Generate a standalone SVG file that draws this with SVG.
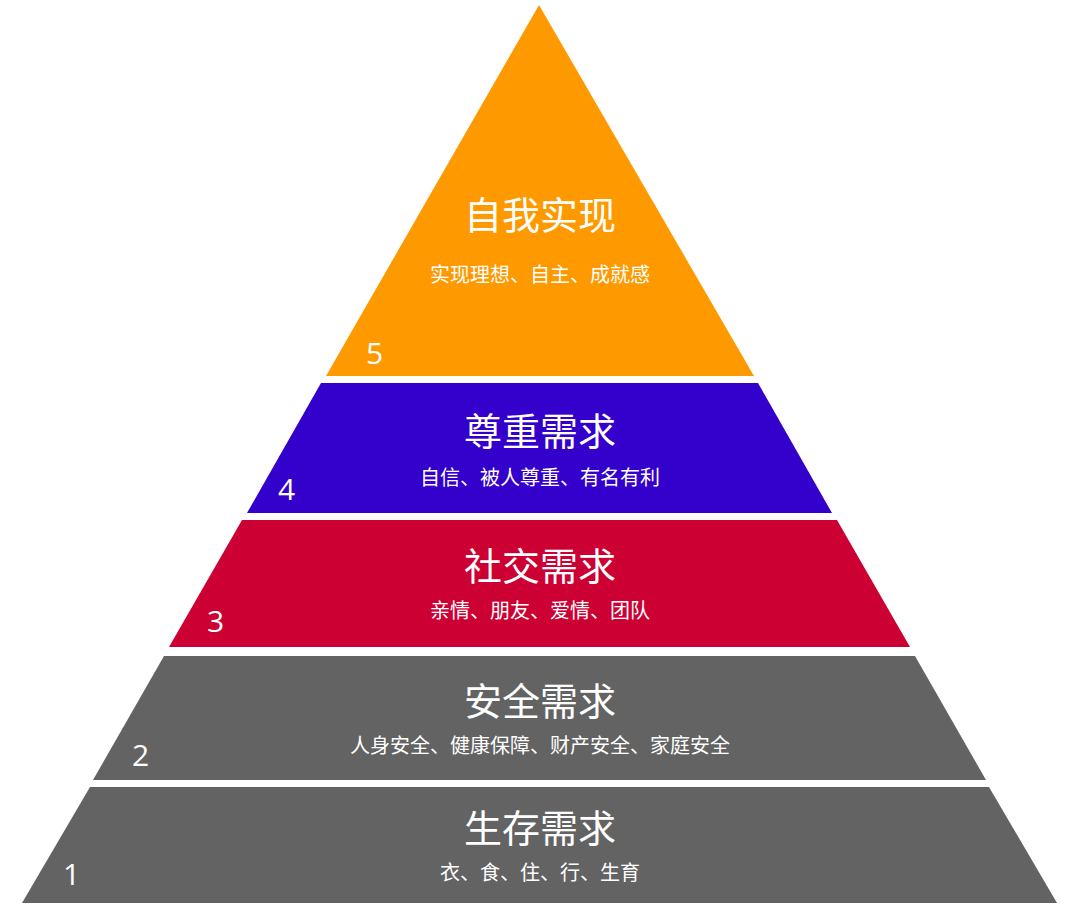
<svg xmlns="http://www.w3.org/2000/svg" width="1080" height="911" viewBox="0 0 1080 911">
<style>
.t{font-family:"Noto Sans CJK SC","Noto Sans",sans-serif;fill:#fff;text-anchor:middle}
.h{font-size:38px}
.s{font-size:20px}
.n{font-family:"Open Sans","Noto Sans",sans-serif;fill:#fff;font-size:30px}
</style>
<rect width="1080" height="911" fill="#fff"/>
<g id="level5"><polygon points="539,5 754,376 326,376" fill="#fe9900"/>
<text class="t h" x="540" y="229">自我实现</text><text class="t s" x="540" y="282">实现理想、自主、成就感</text><text class="n" x="366" y="364">5</text></g>
<g id="level4"><polygon points="321,383 758,383 832,513 247,513" fill="#3300cc"/>
<text class="t h" x="540" y="445">尊重需求</text><text class="t s" x="540" y="485">自信、被人尊重、有名有利</text><text class="n" x="278" y="500">4</text></g>
<g id="level3"><polygon points="242,520 837,520 910,647 169,647" fill="#cc0033"/>
<text class="t h" x="540" y="580">社交需求</text><text class="t s" x="540" y="618">亲情、朋友、爱情、团队</text><text class="n" x="207" y="632">3</text></g>
<g id="level2"><polygon points="164,656 915,656 986,780 93,780" fill="#636363"/>
<text class="t h" x="540" y="715">安全需求</text><text class="t s" x="540" y="753">人身安全、健康保障、财产安全、家庭安全</text><text class="n" x="132" y="766">2</text></g>
<g id="level1"><polygon points="90,787 989,787 1057,903 22,903" fill="#636363"/>
<text class="t h" x="540" y="842">生存需求</text><text class="t s" x="540" y="880">衣、食、住、行、生育</text><text class="n" x="63" y="885">1</text></g>
<g id="connectors"/>
</svg>
